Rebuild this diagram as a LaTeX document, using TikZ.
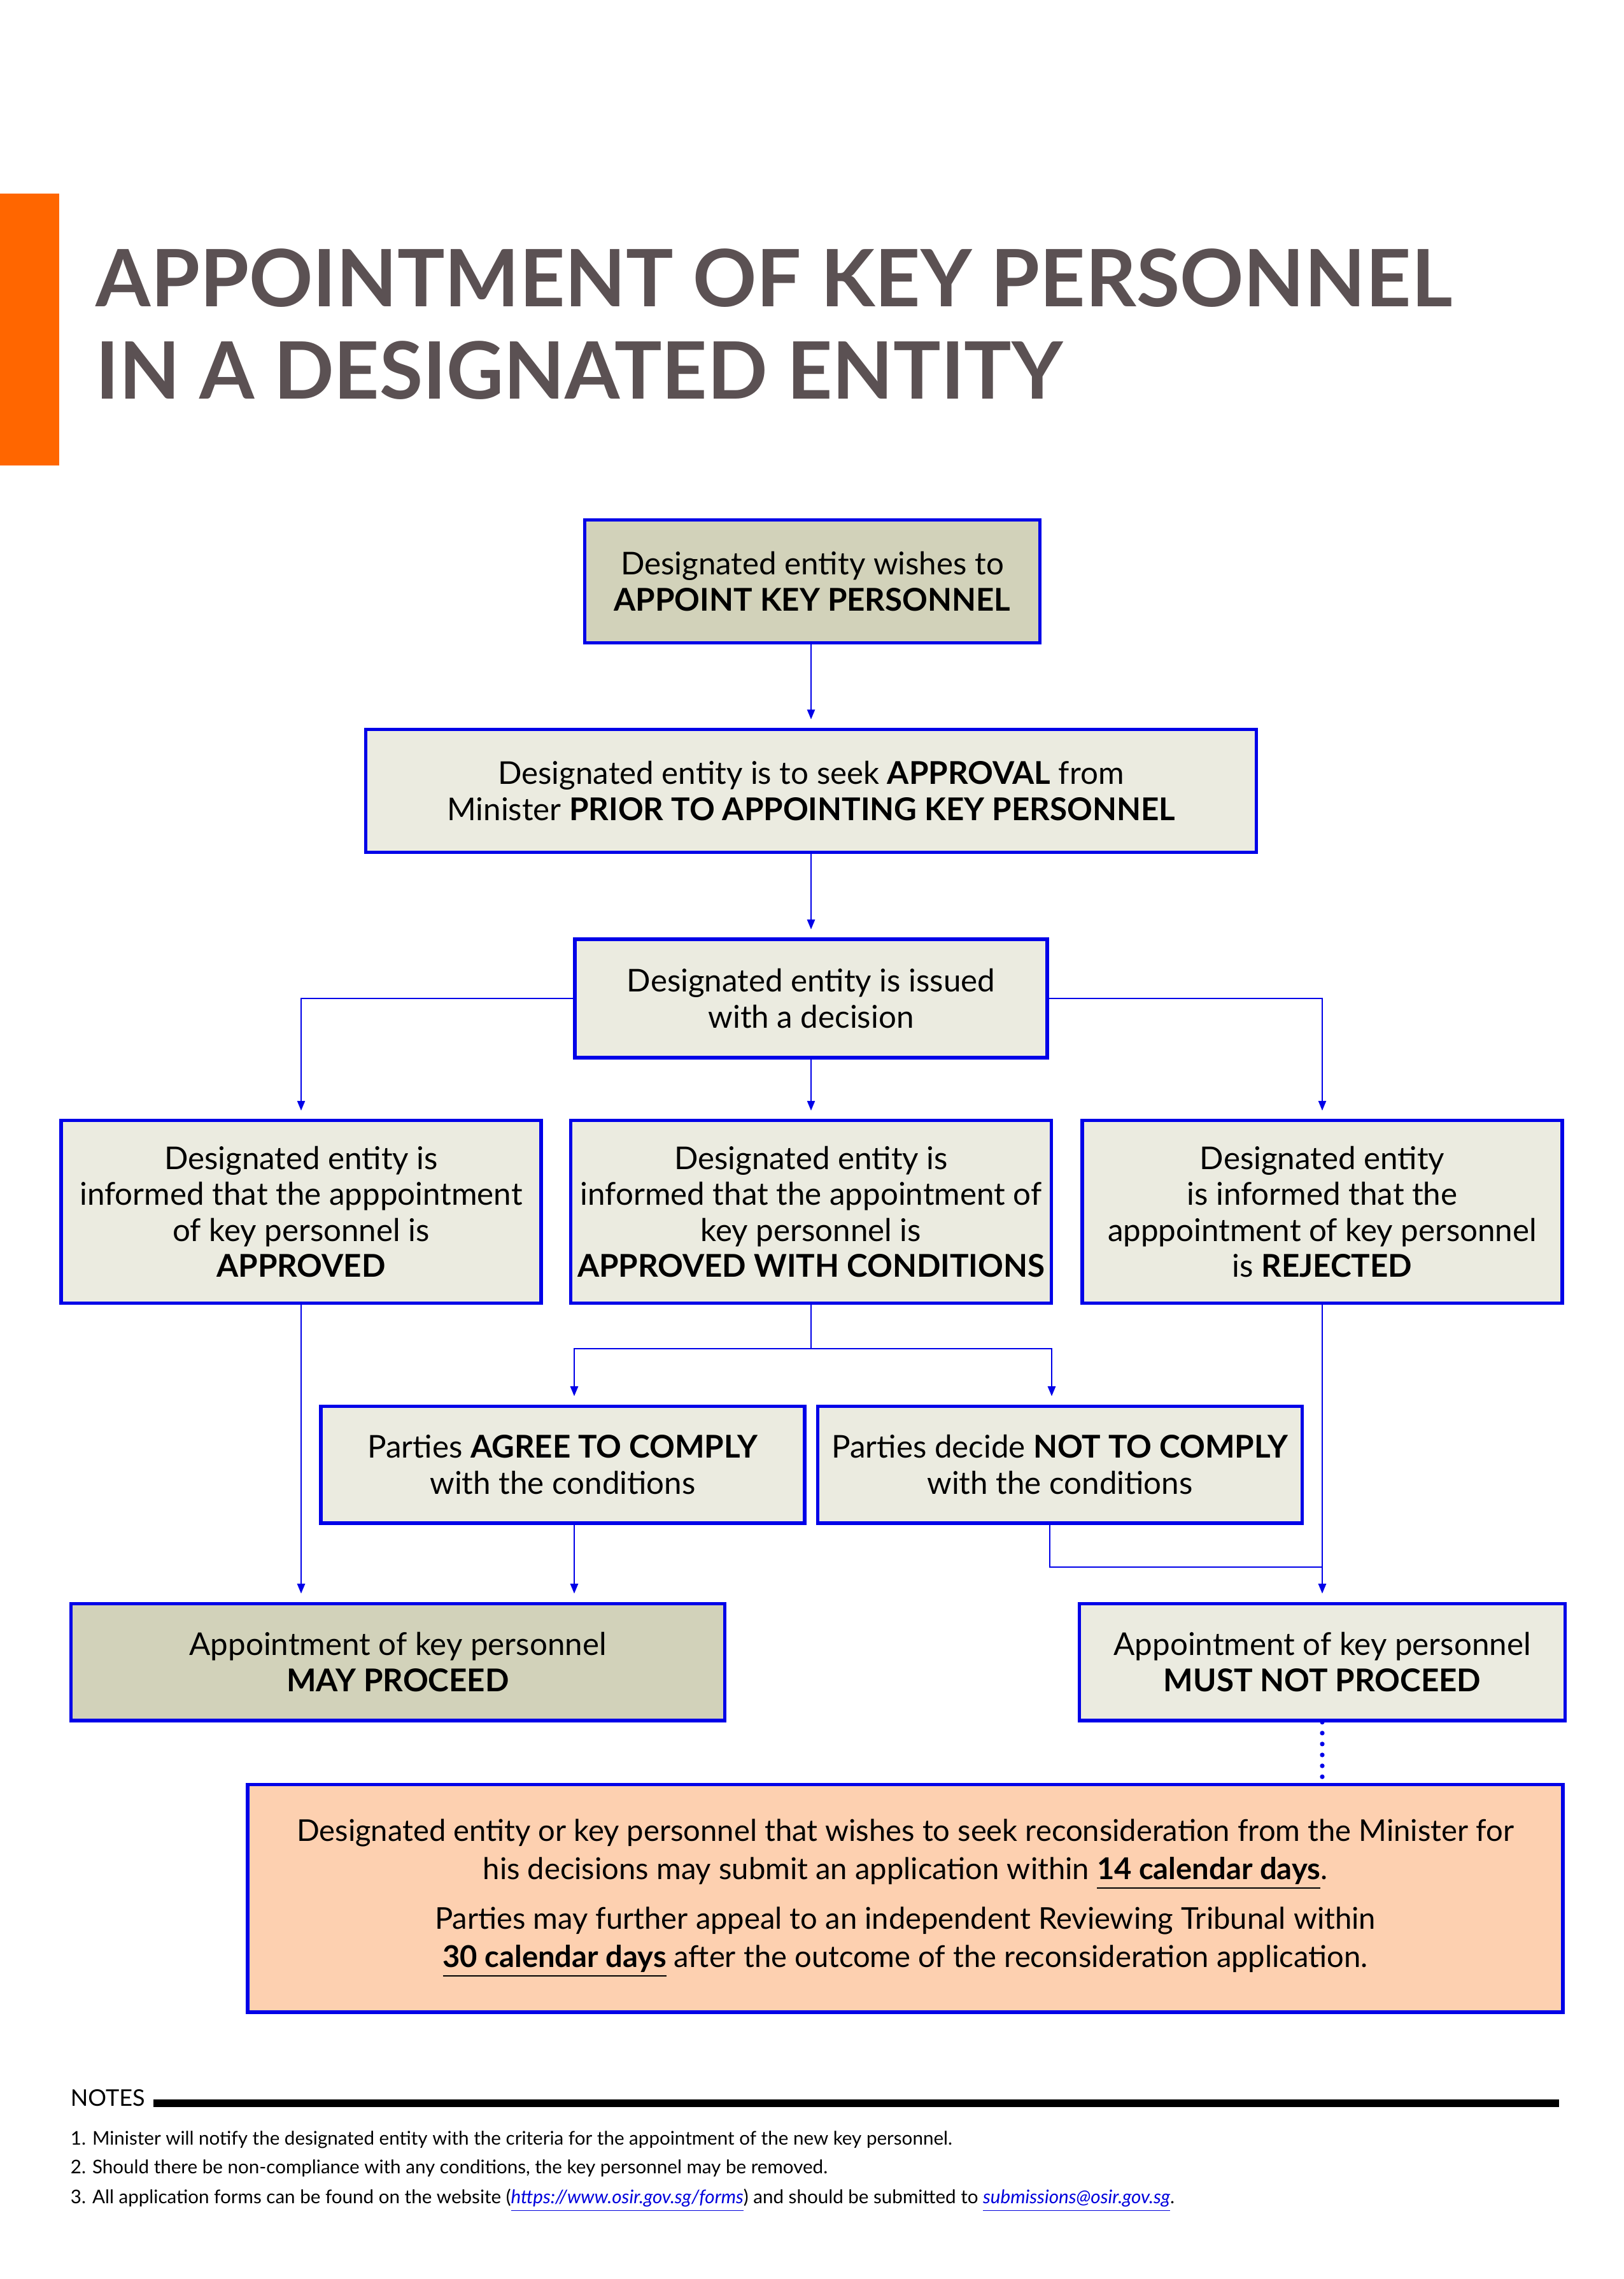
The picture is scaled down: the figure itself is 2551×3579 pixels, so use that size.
\documentclass[tikz,border=0pt]{standalone}
\usepackage{fontspec}
\setmainfont{Lato}
\usetikzlibrary{arrows.meta}

\definecolor{frameblue}{RGB}{0,0,232}
\definecolor{boxpale}{RGB}{235,235,224}
\definecolor{boxolive}{RGB}{210,210,186}
\definecolor{boxpeach}{RGB}{253,208,176}
\definecolor{titlegrey}{RGB}{91,81,83}
\definecolor{barorange}{RGB}{255,102,0}
\definecolor{linkblue}{RGB}{0,0,220}

\tikzset{
  flowbox/.style={draw=frameblue, line width=1.2pt, fill=boxpale, align=center, inner sep=0pt,
    font=\fontsize{11.5}{13.2}\selectfont},
  flowline/.style={draw=frameblue, line width=0.6pt},
  flowarrow/.style={flowline, -{Triangle[length=3.6pt,width=2.8pt]}, shorten >=3pt},
  dotline/.style={draw=frameblue, line width=1.7pt, line cap=round, dash pattern=on 0pt off 4pt},
  notetext/.style={anchor=base west, inner sep=0pt, font=\fontsize{6.9}{8}\selectfont},
}

\begin{document}
\begin{tikzpicture}[x=0.2333pt,y=0.2333pt,yscale=-1,xscale=1]
\useasboundingbox (0,0) rectangle (2551,3579);

%Shape: Rectangle [orange bar]
\fill[barorange] (0,304) rectangle (93,731);

% Text Node
\node (title1) [anchor=base west, inner sep=0pt, text=titlegrey, font=\fontsize{29}{34}\selectfont\bfseries] at (150,481) {APPOINTMENT OF KEY PERSONNEL};
% Text Node
\node (title2) [anchor=base west, inner sep=0pt, text=titlegrey, font=\fontsize{29}{34}\selectfont\bfseries] at (150,626) {IN A DESIGNATED ENTITY};

% Boxes
\node (wish) [flowbox, fill=boxolive, minimum width=167pt, minimum height=45pt] at (1276,913)
  {Designated entity wishes to\\\textbf{APPOINT KEY PERSONNEL}};
\node (seek) [flowbox, minimum width=326.3pt, minimum height=45.2pt] at (1274,1242)
  {Designated entity is to seek \textbf{APPROVAL} from\\Minister \textbf{PRIOR TO APPOINTING KEY PERSONNEL}};
\node (issued) [flowbox, minimum width=173.1pt, minimum height=43.4pt] at (1274,1568)
  {Designated entity is issued\\with a decision};
\node (approved) [flowbox, minimum width=175.9pt, minimum height=66.9pt] at (473,1903)
  {Designated entity is\\informed that the apppointment\\of key personnel is\\\textbf{APPROVED}};
\node (conditions) [flowbox, minimum width=176.1pt, minimum height=66.9pt] at (1274,1903)
  {Designated entity is\\informed that the appointment of\\key personnel is\\\textbf{APPROVED WITH CONDITIONS}};
\node (rejected) [flowbox, minimum width=175.9pt, minimum height=66.9pt] at (2077,1903)
  {Designated entity\\is informed that the\\apppointment of key personnel\\is \textbf{REJECTED}};
\node (agree) [flowbox, minimum width=177.3pt, minimum height=42.9pt] at (884,2300)
  {Parties \textbf{AGREE TO COMPLY}\\with the conditions};
\node (notcomply) [flowbox, minimum width=177.7pt, minimum height=42.9pt] at (1665,2300)
  {Parties decide \textbf{NOT TO COMPLY}\\with the conditions};
\node (may) [flowbox, fill=boxolive, minimum width=239.8pt, minimum height=42.9pt] at (625,2610)
  {Appointment of key personnel\\\textbf{MAY PROCEED}};
\node (mustnot) [flowbox, minimum width=178.2pt, minimum height=42.9pt] at (2077,2610)
  {Appointment of key personnel\\\textbf{MUST NOT PROCEED}};
\node (recon) [flowbox, fill=boxpeach, minimum width=482pt, minimum height=83.5pt,
  font=\fontsize{11}{14}\selectfont] at (1422,2981)
  {Designated entity or key personnel that wishes to seek reconsideration from the Minister for\\
   his decisions may submit an application within \underline{\textbf{14 calendar days}}.\\[4.2pt]
   Parties may further appeal to an independent Reviewing Tribunal within\\
   \underline{\textbf{30 calendar days}} after the outcome of the reconsideration application.};

% Connections
\coordinate (splitL) at (902,2118);
\coordinate (splitR) at (1652,2118);
\coordinate (joinR) at (1649,2461);
\draw[flowarrow] (wish.south -| seek.north) -- (seek.north);
\draw[flowarrow] (seek.south) -- (issued.north);
\draw[flowarrow] (issued.south) -- (conditions.north);
\draw[flowarrow] (issued.west) -| (approved.north);
\draw[flowarrow] (issued.east) -| (rejected.north);
\draw[flowarrow] (conditions.south) |- (splitL) -- (splitL |- agree.north);
\draw[flowarrow] (conditions.south) |- (splitR) -- (splitR |- notcomply.north);
\draw[flowarrow] (approved.south) -- (approved.south |- may.north);
\draw[flowarrow] (splitL |- agree.south) -- (splitL |- may.north);
\draw[flowline] (joinR |- notcomply.south) -- (joinR) -- (joinR -| rejected.south);
\draw[flowarrow] (rejected.south) -- (mustnot.north);
\draw[dotline] (mustnot.south) -- (mustnot.south |- recon.north);

% Notes
\node (notes) [anchor=base west, inner sep=0pt, font=\fontsize{8.4}{10}\selectfont] at (110,3307) {NOTES};
\coordinate (rulend) at (2449,3303);
\draw[line width=2.8pt] ([xshift=3pt]notes.east |- rulend) -- (rulend);
\node (note1) [notetext] at (110,3368) {1. Minister will notify the designated entity with the criteria for the appointment of the new key personnel.};
\node (note2) [notetext] at (110,3413) {2. Should there be non-compliance with any conditions, the key personnel may be removed.};
\node (note3) [notetext] at (110,3460) {3. All application forms can be found on the website (\textcolor{linkblue}{\itshape\underline{https://www.osir.gov.sg/forms}}) and should be submitted to \textcolor{linkblue}{\itshape\underline{submissions@osir.gov.sg}}.};

\end{tikzpicture}
\end{document}
